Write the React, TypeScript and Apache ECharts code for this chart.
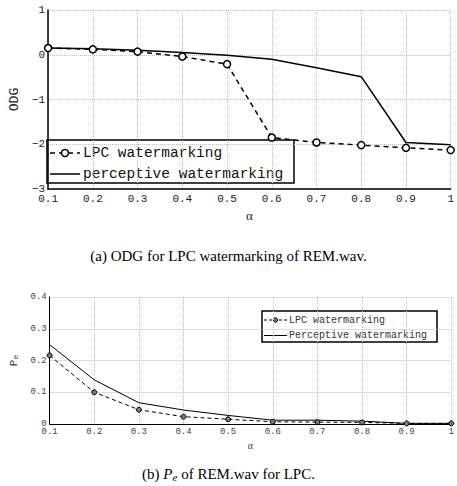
import React, { useEffect, useRef } from "react";
import * as echarts from "echarts";

const alphaTicks = ["0.1", "0.2", "0.3", "0.4", "0.5", "0.6", "0.7", "0.8", "0.9", "1"];
const odgLpc = [0.15, 0.12, 0.07, -0.04, -0.21, -1.85, -1.96, -2.02, -2.08, -2.13];
const odgPerceptive = [0.15, 0.135, 0.1, 0.05, -0.01, -0.1, -0.29, -0.49, -1.96, -2.01];
const peLpc = [0.216, 0.1, 0.045, 0.023, 0.015, 0.007, 0.006, 0.005, 0.002, 0.002];
const pePerceptive = [0.25, 0.139, 0.067, 0.044, 0.027, 0.012, 0.012, 0.009, 0.002, 0.002];
const legendA = ["LPC watermarking", "perceptive watermarking"];
const legendB = ["LPC watermarking", "Perceptive watermarking"];

const MONO = "Liberation Mono";
const SERIF = "Liberation Serif";
const gridLine = { show: true, lineStyle: { color: "#bdbdbd", type: "dotted" as const, width: 1 } };

function legendGraphic(
  x: number, y: number, w: number, h: number,
  lineX0: number, lineX1: number, textX: number, row1: number, row2: number,
  labels: string[], fontSize: number, r: number, dash: number[], lw: number, markerFill: string, textColor: string
): any {
  const mid = (lineX0 + lineX1) / 2;
  return {
    type: "group",
    z: 100,
    children: [
      { type: "rect", shape: { x, y, width: w, height: h }, style: { fill: "#fff", stroke: "#000", lineWidth: 1.5 } },
      { type: "line", shape: { x1: lineX0, y1: row1, x2: lineX1, y2: row1 }, style: { stroke: "#000", lineWidth: lw, lineDash: dash } },
      { type: "circle", shape: { cx: mid, cy: row1, r }, style: { fill: markerFill, stroke: "#000", lineWidth: lw } },
      { type: "text", x: textX, y: row1, style: { text: labels[0], font: `${fontSize}px "${MONO}"`, fill: textColor, textVerticalAlign: "middle", verticalAlign: "middle" } },
      { type: "line", shape: { x1: lineX0, y1: row2, x2: lineX1, y2: row2 }, style: { stroke: "#000", lineWidth: lw } },
      { type: "text", x: textX, y: row2, style: { text: labels[1], font: `${fontSize}px "${MONO}"`, fill: textColor, textVerticalAlign: "middle", verticalAlign: "middle" } },
    ],
  };
}

function optionA(): any {
  return {
    animation: false,
    grid: { left: 45, top: 10, width: 411, height: 179 },
    xAxis: {
      type: "category",
      data: alphaTicks,
      boundaryGap: false,
      axisLine: { onZero: false, lineStyle: { color: "#000", width: 1.5 } },
      axisTick: { show: false },
      axisLabel: { fontFamily: MONO, fontSize: 11, color: "#222", margin: 4, interval: 0 },
      splitLine: { ...gridLine, interval: 0 },
      name: "α",
      nameLocation: "middle",
      nameGap: 20,
      nameTextStyle: { fontFamily: SERIF, fontSize: 13, color: "#222" },
    },
    yAxis: {
      type: "value",
      min: -3,
      max: 1,
      interval: 1,
      axisLine: { show: true, lineStyle: { color: "#000", width: 1.5 } },
      axisTick: { show: false },
      axisLabel: {
        fontFamily: MONO,
        fontSize: 11,
        color: "#222",
        margin: 3,
        formatter: (v: number) => String(v).replace("-", "−"),
      },
      splitLine: gridLine,
      name: "ODG",
      nameLocation: "middle",
      nameRotate: 90,
      nameGap: 26,
      nameTextStyle: { fontFamily: MONO, fontSize: 13, color: "#222" },
    },
    series: [
      {
        name: legendA[0],
        type: "line",
        data: odgLpc,
        symbol: "circle",
        symbolSize: 7,
        itemStyle: { color: "#fff", borderColor: "#000", borderWidth: 1.5 },
        lineStyle: { color: "#000", width: 1.5, type: [5, 4] },
        z: 3,
      },
      {
        name: legendA[1],
        type: "line",
        data: odgPerceptive,
        symbol: "none",
        itemStyle: { color: "#000" },
        lineStyle: { color: "#000", width: 1.5 },
        z: 2,
      },
    ],
    graphic: [legendGraphic(47, 140, 247, 43, 50, 80, 83, 153, 174, legendA, 14.5, 3.5, [5, 4], 1.5, "#fff", "#111")],
    title: {
      text: "(a) ODG for LPC watermarking of REM.wav.",
      left: "center",
      top: 243,
      textStyle: { fontFamily: SERIF, fontSize: 15, fontWeight: "normal", color: "#000" },
    },
  };
}

function optionB(): any {
  return {
    animation: false,
    grid: { left: 45, top: 27, width: 411, height: 127 },
    xAxis: {
      type: "category",
      data: alphaTicks,
      boundaryGap: false,
      axisLine: { onZero: false, lineStyle: { color: "#000", width: 1 } },
      axisTick: { show: false },
      axisLabel: { fontFamily: MONO, fontSize: 9, color: "#444", margin: 3, interval: 0 },
      splitLine: { ...gridLine, interval: 0 },
      name: "α",
      nameLocation: "middle",
      nameGap: 15,
      nameTextStyle: { fontFamily: SERIF, fontSize: 10, color: "#444" },
    },
    yAxis: {
      type: "value",
      min: 0,
      max: 0.4,
      interval: 0.1,
      axisLine: { show: true, lineStyle: { color: "#000", width: 1 } },
      axisTick: { show: false },
      axisLabel: { fontFamily: MONO, fontSize: 9, color: "#444", margin: 3 },
      splitLine: gridLine,
      name: "{a|P}{b|e}",
      nameLocation: "middle",
      nameRotate: 90,
      nameGap: 29,
      nameTextStyle: {
        rich: {
          a: { fontFamily: MONO, fontSize: 11, color: "#444" },
          b: { fontFamily: MONO, fontSize: 8, color: "#444", padding: [4, 0, 0, 0] },
        },
      },
    },
    series: [
      {
        name: legendB[0],
        type: "line",
        data: peLpc,
        symbol: "circle",
        symbolSize: 5,
        itemStyle: { color: "#777", borderColor: "#000", borderWidth: 1 },
        lineStyle: { color: "#000", width: 1, type: [4, 3] },
        z: 3,
      },
      {
        name: legendB[1],
        type: "line",
        data: pePerceptive,
        symbol: "none",
        itemStyle: { color: "#000" },
        lineStyle: { color: "#000", width: 1 },
        z: 2,
      },
    ],
    graphic: [legendGraphic(262, 41, 175, 31, 264, 287, 289, 50, 65.5, legendB, 10, 2.2, [3, 2], 1, "#777", "#333")],
    title: {
      text: "{n|(b) }{i|P}{s|e}{n| of REM.wav for LPC.}",
      left: "center",
      top: 190,
      textStyle: {
        fontWeight: "normal",
        rich: {
          n: { fontFamily: SERIF, fontSize: 15, fontWeight: "normal", color: "#000" },
          i: { fontFamily: SERIF, fontSize: 15, fontStyle: "italic", fontWeight: "normal", color: "#000" },
          s: { fontFamily: SERIF, fontSize: 11, fontStyle: "italic", fontWeight: "normal", color: "#000", padding: [6, 0, 0, 0] },
        },
      },
    },
  };
}

function Chart({ top, height, option }: { top: number; height: number; option: any }) {
  const ref = useRef<HTMLDivElement>(null);
  useEffect(() => {
    if (!ref.current) return;
    const chart = echarts.init(ref.current, undefined, { renderer: "svg" });
    chart.setOption(option);
    return () => chart.dispose();
  }, []);
  return (
    <div
      ref={ref}
      style={{ position: "absolute", left: 0, top, width: 457, height, background: "#fff" }}
    />
  );
}

export default function App() {
  return (
    <div style={{ position: "fixed", left: 0, top: 0, width: 457, height: 486, background: "#fff" }}>
      <Chart top={0} height={270} option={optionA()} />
      <Chart top={270} height={216} option={optionB()} />
    </div>
  );
}
